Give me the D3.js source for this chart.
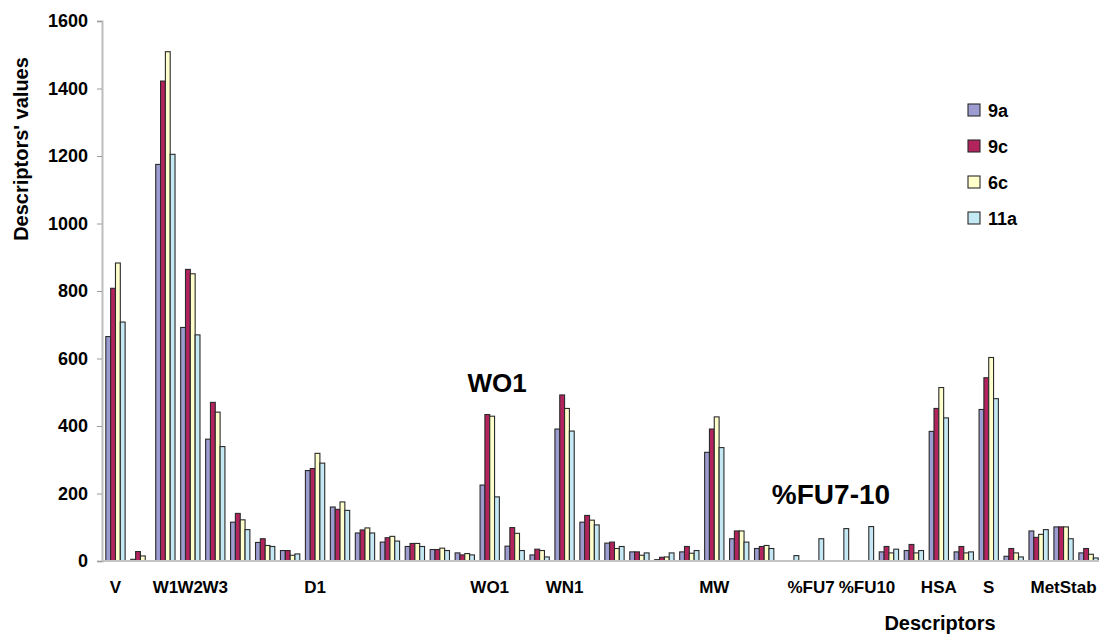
<!DOCTYPE html>
<html>
<head>
<meta charset="utf-8">
<script src="https://cdn.jsdelivr.net/npm/d3@7"></script>
<style>
  html, body { margin: 0; padding: 0; background: #fff; }
  svg { display: block; font-family: "Liberation Sans", Arial, sans-serif; }
  text { font-weight: bold; fill: #000; }
</style>
</head>
<body>
<svg id="chart" width="1099" height="634"></svg>
<script>
// Descriptor categories (blank entries are unlabelled descriptors)
const categories = ["V", "", "W1", "W2", "W3", "", "", "", "D1", "",
  "", "", "", "", "", "WO1", "", "", "WN1", "",
  "", "", "", "", "MW", "", "", "", "%FU7", "",
  "%FU10", "", "", "HSA", "", "S", "", "", "MetStab", ""];

const seriesNames = ["9a", "9c", "6c", "11a"];

const values9a = [665, 5, 1175, 692, 361, 115, 55, 31, 268, 160,
  83, 56, 43, 34, 24, 225, 44, 18, 391, 115,
  53, 27, 4, 27, 322, 66, 37, null, null, null,
  null, 27, 31, 384, 27, 449, 14, 89, 101, 24];

const values9c = [808, 28, 1422, 864, 470, 141, 66, 31, 274, 153,
  92, 69, 52, 34, 18, 434, 99, 35, 492, 135,
  56, 27, 11, 43, 391, 89, 43, null, null, null,
  null, 43, 49, 452, 43, 543, 37, 70, 101, 37];

const values6c = [883, 15, 1509, 851, 441, 122, 46, 17, 319, 175,
  98, 73, 52, 38, 22, 429, 82, 31, 452, 121,
  37, 17, 12, 23, 427, 89, 46, null, null, null,
  null, 24, 24, 514, 24, 603, 24, 79, 101, 20];

const values11a = [708, null, 1205, 670, 339, 93, 43, 21, 290, 150,
  83, 59, 43, 31, 18, 190, 31, 12, 385, 107,
  43, 24, 24, 31, 336, 56, 37, 16, 66, 96,
  102, 35, 31, 424, 27, 481, 12, 93, 66, 9];

const yTicks = [0, 200, 400, 600, 800, 1000, 1200, 1400, 1600];

const seriesColors = ["#9C9CD0", "#B3245E", "#FFFFCC", "#C4E8F4"];

// Long-format table built from the arrays above
const valueArrays = [values9a, values9c, values6c, values11a];
const rows = [];
categories.forEach((c, i) => {
  seriesNames.forEach((s, k) => {
    const v = valueArrays[k][i];
    if (v !== null && v > 0) rows.push({ idx: i, series: s, value: v });
  });
});

const svg = d3.select("#chart");

const x0 = d3.scaleBand()
  .domain(d3.range(categories.length))
  .range([103, 1101])
  .paddingInner(0.226)
  .paddingOuter(0.113);

const x1 = d3.scaleBand()
  .domain(seriesNames)
  .range([0, x0.bandwidth()]);

const y = d3.scaleLinear().domain([0, 1600]).range([561, 21]);

const color = d3.scaleOrdinal().domain(seriesNames).range(seriesColors);

// Bars
svg.append("g")
  .selectAll("rect")
  .data(rows)
  .join("rect")
  .attr("x", d => x0(d.idx) + x1(d.series))
  .attr("y", d => y(d.value))
  .attr("width", x1.bandwidth())
  .attr("height", d => y(0) - y(d.value))
  .attr("fill", d => color(d.series))
  .attr("stroke", "#2a2a2a")
  .attr("stroke-width", 1.1);

// Baseline
svg.append("line")
  .attr("x1", 102).attr("x2", 1099)
  .attr("y1", y(0)).attr("y2", y(0))
  .attr("stroke", "#c4c4c4").attr("stroke-width", 2);

// Value axis
const yAxis = svg.append("g")
  .attr("transform", "translate(102,0)")
  .call(d3.axisLeft(y).tickValues(yTicks).tickSize(5).tickPadding(9).tickFormat(d3.format("d")));
yAxis.select(".domain").attr("stroke", "#bdbdbd").attr("stroke-width", 2);
yAxis.selectAll(".tick line").attr("stroke", "#9a9a9a");
yAxis.selectAll(".tick text")
  .attr("font-size", 18).attr("font-weight", "bold")
  .attr("font-family", "Liberation Sans, Arial, sans-serif").attr("fill", "#000");

// Category labels; the two adjacent %FU labels are nudged apart so they don't collide
const labelNudge = { "%FU7": -3, "%FU10": 3 };
svg.append("g")
  .selectAll("text")
  .data(categories.map((c, i) => ({ c, i })).filter(d => d.c !== ""))
  .join("text")
  .attr("x", d => x0(d.i) + x0.bandwidth() / 2)
  .attr("dx", d => labelNudge[d.c] || 0)
  .attr("y", 593)
  .attr("text-anchor", "middle")
  .attr("font-size", 17)
  .text(d => d.c);

// Axis titles
svg.append("text")
  .attr("transform", "translate(28,149) rotate(-90)")
  .attr("text-anchor", "middle")
  .attr("font-size", 20)
  .text("Descriptors' values");

svg.append("text")
  .attr("x", 940).attr("y", 630)
  .attr("text-anchor", "middle")
  .attr("font-size", 20)
  .text("Descriptors");

// Annotations
svg.append("text")
  .attr("x", 497).attr("y", 392)
  .attr("text-anchor", "middle")
  .attr("font-size", 26)
  .text("WO1");

svg.append("text")
  .attr("x", 831).attr("y", 504)
  .attr("text-anchor", "middle")
  .attr("font-size", 28)
  .text("%FU7-10");

// Legend
const legend = svg.append("g")
  .selectAll("g")
  .data(seriesNames)
  .join("g")
  .attr("transform", (d, i) => `translate(968,${104 + i * 36})`);
legend.append("rect")
  .attr("width", 12).attr("height", 12)
  .attr("fill", d => color(d))
  .attr("stroke", "#2a2a2a").attr("stroke-width", 1.1);
legend.append("text")
  .attr("x", 20).attr("y", 13)
  .attr("font-size", 18)
  .text(d => d);
</script>
</body>
</html>
